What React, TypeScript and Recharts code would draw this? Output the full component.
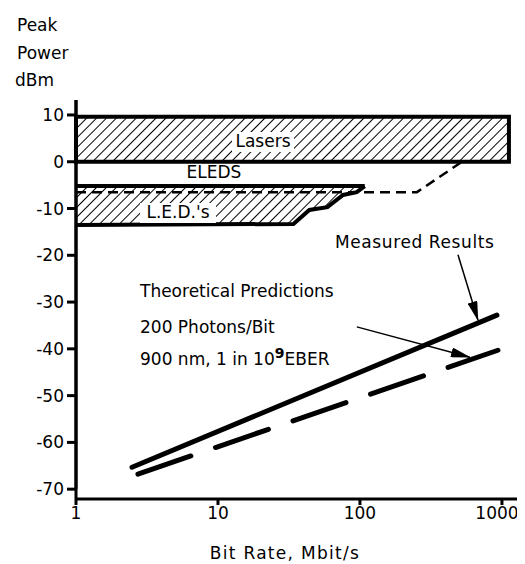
import React from "react";
import {
  ComposedChart,
  XAxis,
  YAxis,
  Line,
  Area,
  ReferenceArea,
  ReferenceLine,
} from "recharts";

// ---- data ----
const xTicks = [1, 10, 100, 1000];
const yTicks = [-70, -60, -50, -40, -30, -20, -10, 0, 10];

const laserRate = [1, 1120];
const laserPower = [0, 9.6];

const ledRate = [1, 34, 44, 59, 76, 95, 108];
const ledTop = [-5.2, -5.2, -5.2, -5.2, -5.2, -5.2, -5.2];
const ledBottom = [-13.5, -13.3, -10.3, -9.7, -7.1, -6.5, -5.2];

const eledRate = [1, 252, 523];
const eledPower = [-6.5, -6.5, 0];

const measuredRate = [2.48, 922];
const measuredPower = [-65.3, -32.8];

const theoryRate = [2.73, 937];
const theoryPower = [-66.8, -40.3];

const measuredArrowRate = [490, 678];
const measuredArrowPower = [-19.9, -33.9];

const theoryArrowRate = [95, 595];
const theoryArrowPower = [-35.3, -41.8];

const toPts = (xs: number[], ys: number[]) => xs.map((x, i) => ({ x, y: ys[i] }));

const ledData = ledRate.map((x, i) => ({ x, range: [ledBottom[i], ledTop[i]] }));
const eledData = toPts(eledRate, eledPower);
const measuredData = toPts(measuredRate, measuredPower);
const theoryData = toPts(theoryRate, theoryPower);
const mArrow = toPts(measuredArrowRate, measuredArrowPower);
const tArrow = toPts(theoryArrowRate, theoryArrowPower);

const W = 517;
const H = 556;
const FONT = "DejaVu Sans";

const XTick = (props: any) => {
  const { x, y, payload } = props;
  const cx = Math.min(x, W - 28);
  return (
    <text
      x={cx}
      y={y}
      dy="0.71em"
      textAnchor="middle"
      fill="#000"
      fontSize={17}
      fontFamily={FONT}
    >
      {payload.value}
    </text>
  );
};

export default function App() {
  return (
    <div style={{ position: "relative", width: W, height: H, fontFamily: FONT }}>
      <style>{`html,body{overflow:hidden}`}</style>
      <svg width={0} height={0} style={{ position: "absolute" }}>
        <defs>
          <pattern
            id="hatch"
            patternUnits="userSpaceOnUse"
            width={7}
            height={7}
            patternTransform="rotate(45)"
          >
            <rect width={7} height={7} fill="#fff" />
            <line x1={0} y1={0} x2={0} y2={7} stroke="#000" strokeWidth={2} />
          </pattern>
          <marker
            id="arrow"
            markerUnits="userSpaceOnUse"
            markerWidth={20}
            markerHeight={10}
            refX={19}
            refY={5}
            orient="auto"
          >
            <path d="M0,0 L20,5 L0,10 Z" fill="#000" />
          </marker>
        </defs>
      </svg>
      <ComposedChart
        width={W}
        height={H}
        margin={{ top: 92, right: 5, left: 0, bottom: 35 }}
        style={{ overflow: "visible" }}
      >
        <XAxis
          dataKey="x"
          type="number"
          scale="log"
          domain={[1, 1340]}
          allowDataOverflow
          ticks={xTicks}
          interval={0}
          tickSize={6}
          tickMargin={2}
          height={30}
          axisLine={{ stroke: "#000", strokeWidth: 3 }}
          tickLine={{ stroke: "#000", strokeWidth: 3 }}
          tick={<XTick />}
        />
        <YAxis
          type="number"
          domain={[-72.1, 13.2]}
          allowDataOverflow
          ticks={yTicks}
          interval={0}
          width={68}
          tickSize={9}
          tickMargin={3}
          axisLine={{ stroke: "#000", strokeWidth: 3 }}
          tickLine={{ stroke: "#000", strokeWidth: 3 }}
          tick={{ fill: "#000", fontSize: 17, fontFamily: FONT }}
        />
        <ReferenceLine
          segment={[
            { x: 1, y: -70 },
            { x: 1, y: 13.2 },
          ]}
          stroke="#000"
          strokeWidth={3}
          ifOverflow="visible"
        />
        <ReferenceArea
          x1={laserRate[0]}
          x2={laserRate[1]}
          y1={laserPower[0]}
          y2={laserPower[1]}
          fill="url(#hatch)"
          fillOpacity={1}
          stroke="#000"
          strokeWidth={4}
        />
        <Area
          data={ledData}
          dataKey="range"
          type="linear"
          stroke="#000"
          strokeWidth={4}
          fill="url(#hatch)"
          fillOpacity={1}
          dot={false}
          activeDot={false}
          isAnimationActive={false}
        />
        <Line
          data={eledData}
          dataKey="y"
          type="linear"
          stroke="#000"
          strokeWidth={2.5}
          strokeDasharray="10 6"
          dot={false}
          activeDot={false}
          isAnimationActive={false}
        />
        <Line
          data={measuredData}
          dataKey="y"
          type="linear"
          stroke="#000"
          strokeWidth={5}
          strokeLinecap="round"
          dot={false}
          activeDot={false}
          isAnimationActive={false}
        />
        <Line
          data={theoryData}
          dataKey="y"
          type="linear"
          stroke="#000"
          strokeWidth={5}
          strokeLinecap="round"
          strokeDasharray="56 26"
          dot={false}
          activeDot={false}
          isAnimationActive={false}
        />
        <Line
          data={mArrow}
          dataKey="y"
          type="linear"
          stroke="#000"
          strokeWidth={1.5}
          markerEnd="url(#arrow)"
          dot={false}
          activeDot={false}
          isAnimationActive={false}
        />
        <Line
          data={tArrow}
          dataKey="y"
          type="linear"
          stroke="#000"
          strokeWidth={1.5}
          markerEnd="url(#arrow)"
          dot={false}
          activeDot={false}
          isAnimationActive={false}
        />
      </ComposedChart>
      <svg
        width={W}
        height={H}
        style={{ position: "absolute", left: 0, top: 0, pointerEvents: "none" }}
        fontFamily={FONT}
        fontSize={17}
        fill="#000"
      >
        <text x={9} y={23}>Peak</text>
        <text x={9} y={51}>Power</text>
        <text x={7} y={78}>dBm</text>

        <rect x={224} y={124} width={62} height={20} fill="#fff" />
        <text x={255} y={139} textAnchor="middle">Lasers</text>
        <text x={206} y={170} textAnchor="middle">ELEDS</text>
        <rect x={132} y={195} width={76} height={20} fill="#fff" />
        <text x={170} y={210} textAnchor="middle">L.E.D.'s</text>

        <text x={327} y={240} letterSpacing={0.6}>Measured Results</text>
        <text x={132} y={289}>Theoretical Predictions</text>
        <text x={132} y={325}>200 Photons/Bit</text>
        <text x={132} y={357}>
          900 nm, 1 in 10
          <tspan dy={-7} fontSize={14} fontWeight="bold">9</tspan>
          <tspan dy={7}>EBER</tspan>
        </text>

        <text x={277} y={551} textAnchor="middle" letterSpacing={1.3}>
          Bit Rate, Mbit/s
        </text>
      </svg>
    </div>
  );
}
